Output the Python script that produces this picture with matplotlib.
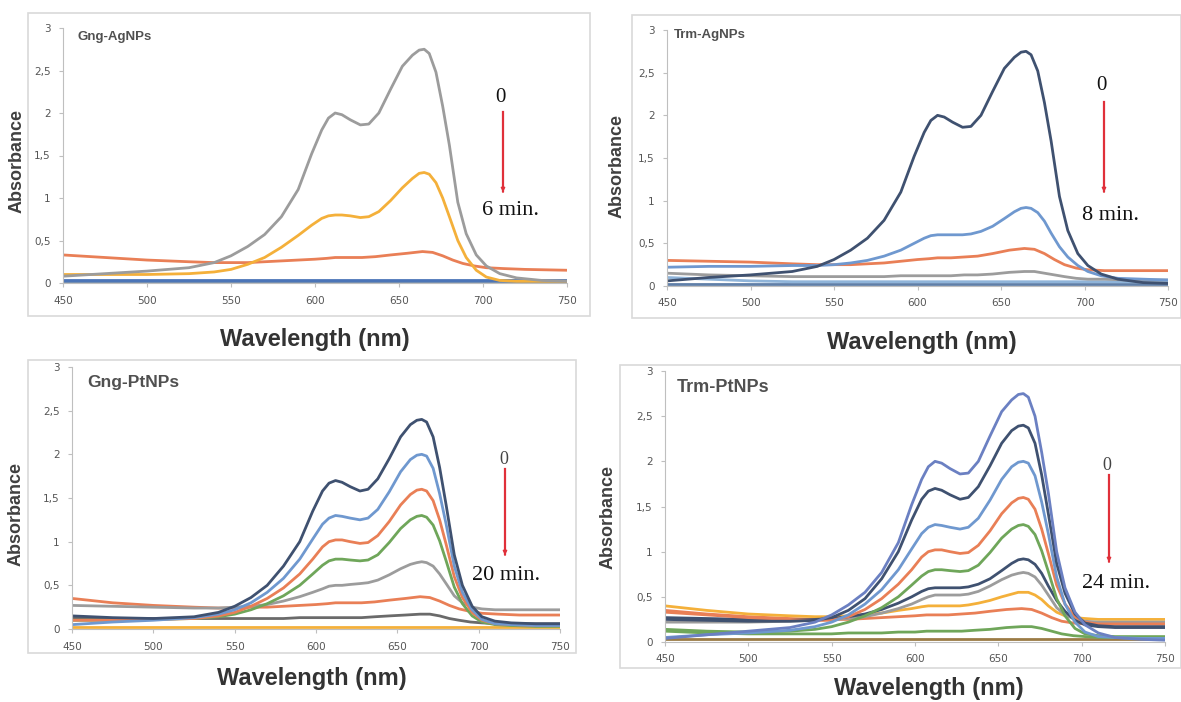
import matplotlib
matplotlib.use("Agg")
import matplotlib.pyplot as plt
from matplotlib.patches import Rectangle

W, H = 1181, 702

# ---------------- data ----------------
# fine wavelength grid for the peaked spectra
wl_fine = [450, 475, 500, 525, 540, 550, 560, 570, 580, 590, 598, 604, 608, 612, 616, 621,
           627, 632, 638, 645, 652, 658, 662, 665, 668, 672, 676, 680, 685, 690, 696, 702,
           710, 720, 735, 750]
# coarse grid for the nearly flat spectra
wl_coarse = [450, 475, 500, 525, 540, 550, 560, 570, 580, 590, 600, 607, 612, 620,
             628, 636, 645, 655, 664, 670, 676, 682, 688, 695, 702, 712, 725, 750]
x_ticks = [450, 500, 550, 600, 650, 700, 750]
y_ticks = [0, 0.5, 1, 1.5, 2, 2.5, 3]
y_tick_labels = ["0", "0,5", "1", "1,5", "2", "2,5", "3"]

# Gng-AgNPs (0 -> 6 min)
gng_ag_0 = [0.08, 0.11, 0.14, 0.18, 0.24, 0.32, 0.43, 0.57, 0.78, 1.1, 1.52, 1.8, 1.94, 2.0, 1.98,
            1.92, 1.86, 1.87, 2.0, 2.28, 2.55, 2.68, 2.74, 2.75, 2.7, 2.48, 2.08, 1.62, 0.95, 0.58,
            0.33, 0.2, 0.11, 0.06, 0.03, 0.02]
gng_ag_1 = [0.1, 0.1, 0.1, 0.11, 0.13, 0.16, 0.22, 0.3, 0.42, 0.56, 0.68, 0.76, 0.79, 0.8, 0.8,
            0.79, 0.77, 0.78, 0.84, 0.97, 1.12, 1.23, 1.29, 1.3, 1.28, 1.18, 1.0, 0.78, 0.5, 0.3,
            0.15, 0.07, 0.03, 0.02, 0.02, 0.02]
gng_ag_2 = [0.33, 0.3, 0.27, 0.25, 0.24, 0.24, 0.24, 0.25, 0.26, 0.27, 0.28, 0.29, 0.3, 0.3,
            0.3, 0.31, 0.33, 0.35, 0.37, 0.36, 0.32, 0.27, 0.23, 0.2, 0.18, 0.17, 0.16, 0.15]
gng_ag_3 = [0.03] * 28
gng_ag_4 = [0.02] * 28

# Trm-AgNPs (0 -> 8 min)
trm_ag_0 = [0.06, 0.1, 0.13, 0.17, 0.23, 0.31, 0.42, 0.56, 0.77, 1.1, 1.52, 1.8, 1.94, 2.0, 1.98,
            1.92, 1.86, 1.87, 2.0, 2.28, 2.55, 2.68, 2.74, 2.75, 2.71, 2.52, 2.15, 1.7, 1.05, 0.65,
            0.38, 0.24, 0.14, 0.08, 0.04, 0.03]
trm_ag_1 = [0.22, 0.23, 0.23, 0.24, 0.24, 0.25, 0.27, 0.3, 0.35, 0.42, 0.5, 0.56, 0.59, 0.6, 0.6,
            0.6, 0.6, 0.61, 0.64, 0.7, 0.79, 0.87, 0.91, 0.92, 0.91, 0.86, 0.76, 0.62, 0.46, 0.34,
            0.24, 0.17, 0.12, 0.09, 0.08, 0.07]
trm_ag_2 = [0.3, 0.29, 0.28, 0.26, 0.25, 0.25, 0.25, 0.26, 0.27, 0.29, 0.31, 0.32, 0.33, 0.33,
            0.34, 0.35, 0.38, 0.42, 0.44, 0.43, 0.38, 0.31, 0.25, 0.21, 0.19, 0.18, 0.18, 0.18]
trm_ag_3 = [0.15, 0.13, 0.12, 0.11, 0.11, 0.11, 0.11, 0.11, 0.11, 0.12, 0.12, 0.12, 0.12, 0.12,
            0.13, 0.13, 0.14, 0.16, 0.17, 0.17, 0.15, 0.13, 0.11, 0.09, 0.08, 0.08, 0.07, 0.07]
trm_ag_4 = [0.1, 0.08, 0.06, 0.05, 0.05, 0.05, 0.05, 0.05, 0.05, 0.05, 0.05, 0.05, 0.05, 0.05,
            0.05, 0.05, 0.05, 0.05, 0.05, 0.05, 0.05, 0.05, 0.05, 0.05, 0.05, 0.05, 0.05, 0.05]
trm_ag_5 = [0.02] * 28

# Gng-PtNPs (0 -> 20 min)
gng_pt_0 = [0.15, 0.13, 0.12, 0.14, 0.19, 0.26, 0.36, 0.5, 0.72, 1.0, 1.35, 1.58, 1.67, 1.7, 1.68,
            1.63, 1.58, 1.6, 1.72, 1.95, 2.2, 2.34, 2.39, 2.4, 2.37, 2.2, 1.85, 1.42, 0.85, 0.5,
            0.26, 0.14, 0.09, 0.07, 0.06, 0.06]
gng_pt_1 = [0.05, 0.08, 0.1, 0.13, 0.17, 0.22, 0.3, 0.42, 0.58, 0.8, 1.03, 1.2, 1.27, 1.3, 1.29,
            1.27, 1.25, 1.27, 1.37, 1.57, 1.8, 1.94, 1.99, 2.0, 1.98, 1.84, 1.55, 1.2, 0.72, 0.42,
            0.22, 0.11, 0.06, 0.05, 0.04, 0.04]
gng_pt_2 = [0.1, 0.1, 0.11, 0.12, 0.15, 0.19, 0.26, 0.35, 0.47, 0.63, 0.8, 0.94, 1.0, 1.02, 1.02,
            1.0, 0.98, 0.99, 1.07, 1.23, 1.42, 1.54, 1.59, 1.6, 1.58, 1.47, 1.25, 0.97, 0.6, 0.36,
            0.19, 0.1, 0.06, 0.05, 0.04, 0.04]
gng_pt_3 = [0.1, 0.1, 0.11, 0.12, 0.14, 0.17, 0.22, 0.29, 0.38, 0.5, 0.63, 0.73, 0.78, 0.8, 0.8,
            0.79, 0.78, 0.79, 0.85, 0.99, 1.15, 1.25, 1.29, 1.3, 1.28, 1.19, 1.01, 0.78, 0.48, 0.29,
            0.15, 0.08, 0.05, 0.04, 0.03, 0.03]
gng_pt_4 = [0.27, 0.26, 0.25, 0.24, 0.24, 0.25, 0.26, 0.28, 0.32, 0.37, 0.42, 0.46, 0.49, 0.5, 0.5,
            0.51, 0.52, 0.53, 0.56, 0.62, 0.69, 0.74, 0.76, 0.77, 0.76, 0.72, 0.63, 0.52, 0.38, 0.3,
            0.25, 0.23, 0.22, 0.22, 0.22, 0.22]
gng_pt_5 = [0.35, 0.3, 0.27, 0.25, 0.24, 0.24, 0.25, 0.25, 0.26, 0.27, 0.28, 0.29, 0.3, 0.3,
            0.3, 0.31, 0.33, 0.35, 0.37, 0.36, 0.32, 0.27, 0.23, 0.2, 0.18, 0.17, 0.16, 0.16]
gng_pt_6 = [0.13, 0.12, 0.12, 0.12, 0.12, 0.12, 0.12, 0.12, 0.12, 0.13, 0.13, 0.13, 0.13, 0.13,
            0.13, 0.14, 0.15, 0.16, 0.17, 0.17, 0.15, 0.12, 0.1, 0.08, 0.07, 0.06, 0.06, 0.06]
gng_pt_7 = [0.02] * 28

# Trm-PtNPs (0 -> 24 min)
trm_pt_0 = [0.04, 0.08, 0.12, 0.16, 0.22, 0.3, 0.41, 0.55, 0.77, 1.1, 1.52, 1.8, 1.94, 2.0, 1.98,
            1.92, 1.86, 1.87, 2.0, 2.28, 2.55, 2.68, 2.74, 2.75, 2.71, 2.5, 2.1, 1.65, 1.0, 0.6,
            0.33, 0.19, 0.1, 0.05, 0.03, 0.02]
trm_pt_1 = [0.25, 0.24, 0.23, 0.23, 0.24, 0.27, 0.35, 0.48, 0.7, 1.0, 1.35, 1.58, 1.67, 1.7, 1.68,
            1.63, 1.58, 1.6, 1.72, 1.95, 2.2, 2.34, 2.39, 2.4, 2.37, 2.2, 1.85, 1.42, 0.87, 0.54,
            0.31, 0.21, 0.18, 0.17, 0.17, 0.17]
trm_pt_2 = [0.05, 0.08, 0.1, 0.13, 0.17, 0.22, 0.3, 0.42, 0.58, 0.8, 1.03, 1.2, 1.27, 1.3, 1.29,
            1.27, 1.25, 1.27, 1.37, 1.57, 1.8, 1.94, 1.99, 2.0, 1.98, 1.84, 1.55, 1.2, 0.72, 0.42,
            0.22, 0.11, 0.06, 0.05, 0.04, 0.04]
trm_pt_3 = [0.33, 0.3, 0.27, 0.25, 0.24, 0.24, 0.28, 0.36, 0.48, 0.64, 0.8, 0.94, 1.0, 1.02, 1.02,
            1.0, 0.98, 0.99, 1.07, 1.23, 1.42, 1.54, 1.59, 1.6, 1.58, 1.47, 1.25, 0.98, 0.63, 0.42,
            0.28, 0.22, 0.2, 0.2, 0.2, 0.2]
trm_pt_4 = [0.14, 0.12, 0.11, 0.12, 0.14, 0.17, 0.22, 0.29, 0.38, 0.5, 0.63, 0.73, 0.78, 0.8, 0.8,
            0.79, 0.78, 0.79, 0.85, 0.99, 1.15, 1.25, 1.29, 1.3, 1.28, 1.19, 1.01, 0.78, 0.48, 0.29,
            0.15, 0.09, 0.07, 0.06, 0.06, 0.06]
trm_pt_5 = [0.27, 0.26, 0.25, 0.25, 0.25, 0.26, 0.28, 0.31, 0.36, 0.43, 0.5, 0.56, 0.59, 0.6, 0.6,
            0.6, 0.6, 0.61, 0.64, 0.7, 0.79, 0.87, 0.91, 0.92, 0.91, 0.86, 0.76, 0.62, 0.46, 0.34,
            0.24, 0.19, 0.17, 0.16, 0.16, 0.16]
trm_pt_6 = [0.22, 0.22, 0.22, 0.23, 0.24, 0.25, 0.26, 0.28, 0.32, 0.37, 0.42, 0.47, 0.5, 0.52, 0.52,
            0.52, 0.52, 0.53, 0.56, 0.62, 0.69, 0.74, 0.76, 0.77, 0.76, 0.72, 0.63, 0.52, 0.38, 0.3,
            0.25, 0.23, 0.22, 0.22, 0.22, 0.22]
trm_pt_7 = [0.4, 0.35, 0.31, 0.29, 0.28, 0.28, 0.29, 0.3, 0.32, 0.35, 0.37, 0.39, 0.4, 0.4, 0.4,
            0.4, 0.4, 0.41, 0.43, 0.46, 0.5, 0.53, 0.55, 0.55, 0.55, 0.52, 0.47, 0.4, 0.33, 0.29,
            0.27, 0.26, 0.25, 0.25, 0.25, 0.25]
trm_pt_8 = [0.35, 0.31, 0.28, 0.26, 0.25, 0.25, 0.25, 0.26, 0.27, 0.28, 0.29, 0.3, 0.3, 0.3,
            0.31, 0.32, 0.34, 0.36, 0.37, 0.36, 0.32, 0.27, 0.23, 0.21, 0.2, 0.2, 0.2, 0.2]
trm_pt_9 = [0.12, 0.1, 0.09, 0.09, 0.09, 0.09, 0.1, 0.1, 0.1, 0.11, 0.11, 0.12, 0.12, 0.12,
            0.12, 0.13, 0.14, 0.16, 0.17, 0.17, 0.15, 0.12, 0.09, 0.07, 0.06, 0.05, 0.05, 0.05]
trm_pt_10 = [0.03] * 28

# ---------------- styling ----------------
NAVY = "#3f5170"
BLUE = "#6f98cf"
PURPLE_BLUE = "#6b80c2"
ORANGE = "#e97f56"
GRAY = "#9c9c9c"
DGRAY = "#6a6a6a"
GOLD = "#f4b03a"
GREEN = "#6fa65a"
STEEL = "#5f7fa8"
BROWN = "#9b7b45"

F, C = wl_fine, wl_coarse
panels = [
    dict(title="Gng-AgNPs", tsize=9.5, tpos=(78, 37),
         box=(28, 13, 590, 316), x0=63, x1=567, y0=283, y3=28,
         series=[(C, gng_ag_4, STEEL), (C, gng_ag_3, "#4a74b8"), (C, gng_ag_2, ORANGE),
                 (F, gng_ag_1, GOLD), (F, gng_ag_0, GRAY)],
         ylab=(17, 161), xlab=(315, 339),
         zero=(500, 97, 15, "#111111"), arrow=(503, 112, 195), end=("6 min.", 482, 210)),
    dict(title="Trm-AgNPs", tsize=9.5, tpos=(674, 35),
         box=(632, 15, 1181, 318), x0=667, x1=1168, y0=286, y3=30,
         series=[(C, trm_ag_5, STEEL), (C, trm_ag_4, "#8fb4d9"), (C, trm_ag_3, GRAY),
                 (C, trm_ag_2, ORANGE), (F, trm_ag_1, BLUE), (F, trm_ag_0, NAVY)],
         ylab=(617, 166), xlab=(922, 342),
         zero=(1101, 86, 15, "#111111"), arrow=(1104, 102, 195), end=("8 min.", 1082, 216)),
    dict(title="Gng-PtNPs", tsize=12.5, tpos=(87, 383),
         box=(28, 360, 576, 653), x0=72, x1=560, y0=629, y3=367,
         series=[(C, gng_pt_7, GOLD), (C, gng_pt_6, DGRAY), (C, gng_pt_5, ORANGE),
                 (F, gng_pt_4, GRAY), (F, gng_pt_3, GREEN), (F, gng_pt_2, ORANGE),
                 (F, gng_pt_1, BLUE), (F, gng_pt_0, NAVY)],
         ylab=(16, 514), xlab=(312, 678),
         zero=(504, 460, 13, "#444444"), arrow=(505, 469, 558), end=("20 min.", 472, 575)),
    dict(title="Trm-PtNPs", tsize=13, tpos=(677, 388),
         box=(620, 365, 1181, 668), x0=665, x1=1165, y0=642, y3=371,
         series=[(C, trm_pt_10, BROWN), (C, trm_pt_9, GREEN), (C, trm_pt_8, ORANGE),
                 (F, trm_pt_7, GOLD), (F, trm_pt_6, GRAY), (F, trm_pt_5, NAVY),
                 (F, trm_pt_4, GREEN), (F, trm_pt_3, ORANGE), (F, trm_pt_2, BLUE),
                 (F, trm_pt_1, NAVY), (F, trm_pt_0, PURPLE_BLUE)],
         ylab=(608, 517), xlab=(929, 688),
         zero=(1107, 465, 13, "#444444"), arrow=(1109, 475, 565), end=("24 min.", 1082, 583)),
]

fig = plt.figure(figsize=(W / 100, H / 100), dpi=100)
fig.patch.set_facecolor("white")


def fx(x):
    return x / W


def fy(y):
    return 1 - y / H


for p in panels:
    bx0, by0, bx1, by1 = p["box"]
    fig.add_artist(Rectangle((fx(bx0), fy(by1)), fx(bx1) - fx(bx0), fy(by0) - fy(by1),
                             transform=fig.transFigure, fill=False,
                             edgecolor="#d9d9d9", linewidth=1.2, zorder=0))
    ax = fig.add_axes([fx(p["x0"]), fy(p["y0"]), fx(p["x1"]) - fx(p["x0"]),
                       fy(p["y3"]) - fy(p["y0"])])
    ax.set_facecolor("none")
    for xs, vals, col in p["series"]:
        ax.plot(xs, vals, color=col, lw=2.0, solid_capstyle="round",
                solid_joinstyle="round")
    ax.set_xlim(450, 750)
    ax.set_ylim(0, 3)
    ax.set_xticks(x_ticks)
    ax.set_yticks(y_ticks)
    ax.set_yticklabels(y_tick_labels)
    for s in ["top", "right"]:
        ax.spines[s].set_visible(False)
    ax.spines["left"].set_color("#bfbfbf")
    ax.spines["bottom"].set_color("#bfbfbf")
    ax.spines["left"].set_linewidth(0.8)
    ax.spines["bottom"].set_linewidth(0.8)
    ax.tick_params(axis="both", colors="#bfbfbf", labelcolor="#555555",
                   labelsize=7.5, length=3, width=0.8, pad=6)
    ax.set_zorder(2)

    fig.text(fx(p["tpos"][0]), fy(p["tpos"][1]), p["title"], fontsize=p["tsize"],
             fontweight="bold", color="#505050", ha="left", va="center",
             family="Liberation Sans")
    fig.text(fx(p["ylab"][0]), fy(p["ylab"][1]), "Absorbance", rotation=90,
             fontsize=13, fontweight="bold", color="#404040", ha="center",
             va="center", family="Liberation Sans")
    fig.text(fx(p["xlab"][0]), fy(p["xlab"][1]), "Wavelength (nm)", fontsize=17,
             fontweight="bold", color="#333333", ha="center", va="center",
             family="Liberation Sans")
    # time arrow annotation
    zx, zy, zs, zc = p["zero"]
    fig.text(fx(zx), fy(zy), "0", fontsize=zs, color=zc, ha="center",
             va="center", family="Liberation Serif")
    axx, ay0, ay1 = p["arrow"]
    fig.add_artist(plt.Line2D([fx(axx), fx(axx)], [fy(ay0), fy(ay1 - 4)],
                              transform=fig.transFigure, color="#e0303a", lw=1.6))
    ax.annotate("", xy=(fx(axx), fy(ay1)), xytext=(fx(axx), fy(ay1 - 6)),
                xycoords="figure fraction", textcoords="figure fraction",
                arrowprops=dict(arrowstyle="-|>", color="#e0303a", lw=1.0,
                                mutation_scale=6))
    etxt, ex, ey = p["end"]
    fig.text(fx(ex), fy(ey), etxt, fontsize=16, color="#111111", ha="left",
             va="center", family="Liberation Serif")

fig.savefig("out.png", dpi=100, facecolor="white")
